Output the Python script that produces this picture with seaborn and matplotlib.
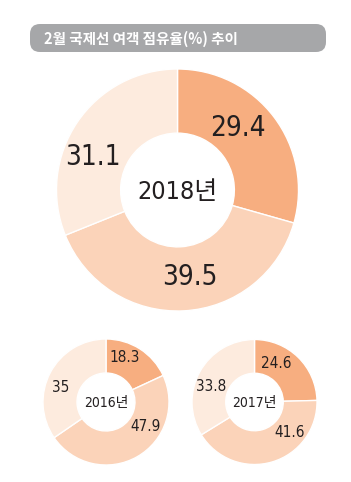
import numpy as np
import matplotlib
matplotlib.use("Agg")
import matplotlib.pyplot as plt
from matplotlib.patches import FancyBboxPatch
import seaborn as sns

sns.set_theme(style="white")
plt.rcParams['font.family'] = ['DejaVu Sans', 'Noto Sans CJK KR']
plt.rcParams['font.stretch'] = 'condensed'

# ---- data ----
title = "2월 국제선 여객 점유율(%) 추이"
years = ["2018년", "2016년", "2017년"]
shares_2018 = [29.4, 39.5, 31.1]
shares_2016 = [18.3, 47.9, 35.0]
shares_2017 = [24.6, 41.6, 33.8]
share_labels_2018 = ["29.4", "39.5", "31.1"]
share_labels_2016 = ["18.3", "47.9", "35"]
share_labels_2017 = ["24.6", "41.6", "33.8"]

colors = ["#F7AE80", "#FBD3B9", "#FDEBDE"]

W, H = 351, 482
fig = plt.figure(figsize=(W / 100, H / 100), dpi=100)
fig.patch.set_facecolor("white")

# title bar
tax = fig.add_axes([0, 0, 1, 1])
tax.set_xlim(0, W)
tax.set_ylim(H, 0)
tax.axis("off")
box = FancyBboxPatch((30, 24), 296, 28, boxstyle="round,pad=0,rounding_size=10",
                     fc="#A6A7A9", ec="none")
tax.add_patch(box)
tax.text(44, 38.5, title, color="white", fontsize=10.5, fontweight="bold",
         family=['Noto Sans CJK KR', 'DejaVu Sans'], va="center", ha="left")


def donut(cx, cy, r, vals, labels, year, lab_size, ctr_size, width, angle_shift, lab_r):
    ax = fig.add_axes([(cx - r) / W, (H - cy - r) / H, 2 * r / W, 2 * r / H])
    wedges, _ = ax.pie(vals, colors=colors, startangle=90, counterclock=False,
                       radius=1, wedgeprops=dict(width=width, edgecolor="white", linewidth=1.0))
    ax.set_xlim(-1, 1)
    ax.set_ylim(-1, 1)
    ax.set_aspect("equal")
    ax.axis("off")
    for w, lab, sh, rr in zip(wedges, labels, angle_shift, lab_r):
        ang = np.deg2rad((w.theta1 + w.theta2) / 2 + sh)
        ax.text(rr * np.cos(ang), rr * np.sin(ang), lab, ha="center", va="center",
                fontsize=lab_size, color="#231F20")
    ax.text(0, -0.02, year, ha="center", va="center", fontsize=ctr_size, color="#231F20")


donut(177.5, 190, 121, shares_2018, share_labels_2018, years[0], 20, 18, 0.53,
      [8.6, 5, 12.7], [0.72, 0.73, 0.75])
donut(106, 402, 63, shares_2016, share_labels_2016, years[1], 11, 10, 0.54,
      [9.5, 28.4, 10.2], [0.76, 0.74, 0.75])
donut(254.5, 402, 62.5, shares_2017, share_labels_2017, years[2], 11, 10, 0.54,
      [15.4, 33, 10], [0.71, 0.74, 0.74])

fig.savefig("out.png", dpi=100, facecolor="white")
